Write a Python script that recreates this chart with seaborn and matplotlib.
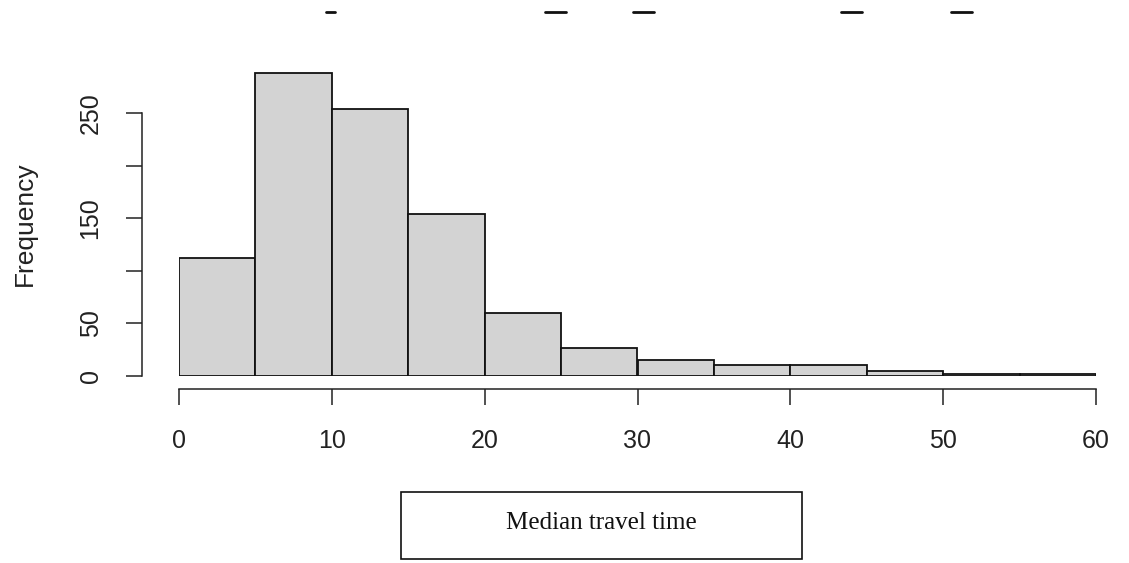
"""Histogram of median travel time, drawn in the style of base R hist()."""

import matplotlib

matplotlib.use("Agg")
import matplotlib.pyplot as plt
import seaborn as sns
from matplotlib.lines import Line2D
from matplotlib.patches import Rectangle

# bin edges (minutes) and bar counts
bin_edges = [0, 5, 10, 15, 20, 25, 30, 35, 40, 45, 50, 55, 60]
counts = [112, 288, 254, 154, 60, 27, 15, 10, 10, 5, 2, 2]
x_ticks = [0, 10, 20, 30, 40, 50, 60]
y_ticks = [0, 50, 100, 150, 200, 250]
y_tick_labels = ["0", "50", "", "150", "", "250"]

sns.set_style("white")
plt.rcParams["font.family"] = ["Liberation Sans", "DejaVu Sans"]

W, H = 1129, 563
fig = plt.figure(figsize=(W / 100, H / 100), dpi=100)
# plot region in pixels: x 179..1096, y 71..376
ax = fig.add_axes([179 / W, (H - 376) / H, (1096 - 179) / W, (376 - 71) / H])

centers = [(a + b) / 2 for a, b in zip(bin_edges[:-1], bin_edges[1:])]
sns.histplot(
    x=centers, weights=counts, bins=bin_edges, ax=ax,
    color="#d3d3d3", edgecolor="#111111", linewidth=1.3, alpha=1.0,
)

ax.set_xlim(0, 60)
ax.set_ylim(0, 290)
ax.set_xticks(x_ticks)
ax.set_yticks(y_ticks)
ax.set_yticklabels(y_tick_labels)

for side in ("top", "right"):
    ax.spines[side].set_visible(False)
ax.spines["left"].set_position(("outward", 26.5))
ax.spines["bottom"].set_position(("outward", 9.5))
ax.spines["left"].set_bounds(0, 250)
ax.spines["bottom"].set_bounds(0, 60)
for side in ("left", "bottom"):
    ax.spines[side].set_color("#222222")
    ax.spines[side].set_linewidth(1.1)

ax.tick_params(axis="both", length=11.5, width=1.1, color="#222222",
               labelsize=18, labelcolor="#222222", pad=17, direction="out")
ax.tick_params(axis="x", bottom=True)
ax.tick_params(axis="y", left=True, labelrotation=90)
for lab in ax.get_yticklabels():
    lab.set_verticalalignment("center")

ax.set_xlabel("")
ax.set_ylabel("Frequency", fontsize=19, color="#222222")
ax.yaxis.set_label_coords(-0.155, 0.5)

# boxed x label in a serif face
fig.add_artist(Rectangle((401 / W, (H - 559) / H), (802 - 401) / W, (559 - 492) / H,
                         transform=fig.transFigure, facecolor="white",
                         edgecolor="#111111", linewidth=1.2))
fig.text(601 / W, (H - 523) / H, "Median travel time", ha="center", va="center",
         family=["Liberation Serif", "DejaVu Serif"], fontsize=18, color="#111111")

# remnants of a cut-off title at the top edge
for x0, x1 in [(326, 335), (545, 566), (633, 654), (841, 862), (951, 972)]:
    fig.add_artist(Line2D([x0 / W, x1 / W], [(H - 12) / H] * 2,
                          transform=fig.transFigure, color="#111111", linewidth=2))

fig.savefig("out.png", dpi=100)
